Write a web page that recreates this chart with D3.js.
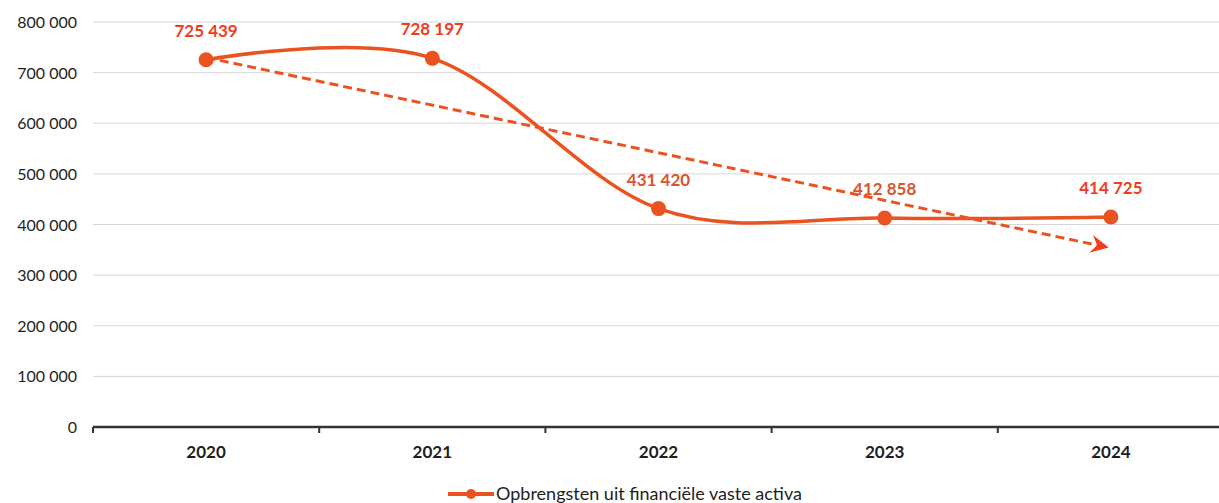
<!DOCTYPE html>
<html>
<head>
<meta charset="utf-8">
<script src="https://cdn.jsdelivr.net/npm/d3@7"></script>
<style>
  body { margin: 0; background: #fff; }
  text { font-family: Lato, "Open Sans", sans-serif; }
</style>
</head>
<body>
<div id="chart"></div>
<script>
const years = ['2020', '2021', '2022', '2023', '2024'];
const values = [725439, 728197, 431420, 412858, 414725];
const valueLabels = ['725 439', '728 197', '431 420', '412 858', '414 725'];
const yTicks = [0, 100000, 200000, 300000, 400000, 500000, 600000, 700000, 800000];
const seriesName = 'Opbrengsten uit financiële vaste activa';

const width = 1219, height = 503;
const lineColor = '#ea5320';
const labelColor = '#f03c1c';

const svg = d3.select('#chart').append('svg')
    .attr('width', width)
    .attr('height', height);

const x = d3.scaleBand().domain(years).range([93, 1224]);
const y = d3.scaleLinear().domain([0, 800000]).range([427, 22]);

// gridlines
svg.append('g')
    .selectAll('line')
    .data(yTicks.filter(d => d > 0))
    .enter().append('line')
    .attr('x1', 93).attr('x2', width)
    .attr('y1', d => y(d)).attr('y2', d => y(d))
    .attr('stroke', '#d6d6d6')
    .attr('stroke-width', 1);

// y axis labels
const fmt = v => d3.format(',')(v).replace(/,/g, ' ');
svg.append('g')
    .selectAll('text')
    .data(yTicks)
    .enter().append('text')
    .attr('x', 77)
    .attr('y', d => y(d) + 6)
    .attr('text-anchor', 'end')
    .attr('font-size', 16)
    .attr('fill', '#1e1e1e')
    .text(d => fmt(d));

// x axis
const xAxis = svg.append('g').attr('transform', `translate(0,${y(0)})`);
xAxis.append('line')
    .attr('x1', 93).attr('x2', width)
    .attr('stroke', '#333').attr('stroke-width', 2.5);
xAxis.selectAll('.tick')
    .data(years)
    .enter().append('line')
    .attr('x1', d => x(d)).attr('x2', d => x(d))
    .attr('y1', 0).attr('y2', 6)
    .attr('stroke', '#333').attr('stroke-width', 2);
xAxis.selectAll('.lbl')
    .data(years)
    .enter().append('text')
    .attr('x', d => x(d) + x.bandwidth() / 2)
    .attr('y', 31)
    .attr('text-anchor', 'middle')
    .attr('font-size', 17)
    .attr('font-weight', 'bold')
    .attr('fill', '#1e1e1e')
    .text(d => d);

const cx = d => x(d) + x.bandwidth() / 2;
const pts = years.map((yr, i) => ({ yr, i, v: values[i] }));

// linear trendline (least squares on category index)
const n = values.length;
const mx = d3.mean(pts, d => d.i), my = d3.mean(values);
const slope = d3.sum(pts, d => (d.i - mx) * (d.v - my)) / d3.sum(pts, d => (d.i - mx) ** 2);
const intercept = my - slope * mx;
const t0 = { x: cx(years[0]), y: y(intercept) };
const t1 = { x: cx(years[n - 1]), y: y(intercept + slope * (n - 1)) };

svg.append('defs').append('marker')
    .attr('id', 'arrow')
    .attr('viewBox', '0 0 10 10')
    .attr('refX', 9).attr('refY', 5)
    .attr('markerWidth', 20).attr('markerHeight', 18)
    .attr('markerUnits', 'userSpaceOnUse')
    .attr('orient', 'auto')
    .append('path')
    .attr('d', 'M0,0 L10,5 L0,10 L3.5,5 Z')
    .attr('fill', labelColor);

// main smoothed line
const line = d3.line()
    .x(d => cx(d.yr))
    .y(d => y(d.v))
    .curve(d3.curveCatmullRom.alpha(0));

svg.append('path')
    .datum(pts)
    .attr('d', line)
    .attr('fill', 'none')
    .attr('stroke', lineColor)
    .attr('stroke-width', 3.5);

svg.append('line')
    .attr('x1', t0.x).attr('y1', t0.y)
    .attr('x2', t1.x - 4).attr('y2', t1.y)
    .attr('stroke', lineColor)
    .attr('stroke-width', 3)
    .attr('stroke-dasharray', '9,5')
    .attr('marker-end', 'url(#arrow)');

svg.append('g')
    .selectAll('circle')
    .data(pts)
    .enter().append('circle')
    .attr('cx', d => cx(d.yr))
    .attr('cy', d => y(d.v))
    .attr('r', 7.5)
    .attr('fill', lineColor);

// data labels
svg.append('g')
    .selectAll('text')
    .data(pts)
    .enter().append('text')
    .attr('x', d => cx(d.yr))
    .attr('y', d => y(d.v) - 23)
    .attr('text-anchor', 'middle')
    .attr('font-size', 17)
    .attr('font-weight', 'bold')
    .attr('fill', d => (d.i === 2 || d.i === 3) ? '#d9542e' : labelColor)
    .text(d => valueLabels[d.i]);

// legend
const lg = svg.append('g').attr('transform', 'translate(448,494)');
lg.append('line')
    .attr('x1', 0).attr('x2', 46)
    .attr('stroke', lineColor).attr('stroke-width', 4);
lg.append('circle')
    .attr('cx', 23).attr('r', 5)
    .attr('fill', lineColor);
lg.append('text')
    .attr('x', 48).attr('y', 6)
    .attr('font-size', 18)
    .attr('fill', '#1e1e1e')
    .text(seriesName);
</script>
</body>
</html>
